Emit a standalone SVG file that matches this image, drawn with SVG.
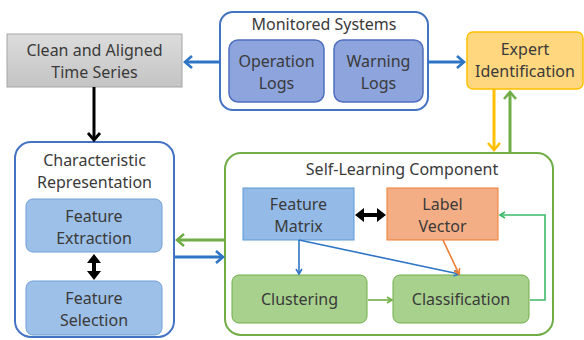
<svg xmlns="http://www.w3.org/2000/svg" width="584" height="340" viewBox="0 0 584 340">
<defs>
<style>
text{font-family:"Noto Sans","Open Sans","Liberation Sans",sans-serif;font-size:16px;fill:#3a3a3a;text-anchor:middle}
.outerB{fill:#fff;stroke:#4472c4;stroke-width:2}
.outerG{fill:#fff;stroke:#70ad47;stroke-width:2}
.logs{fill:#8ea4dc;stroke:#4f6fbf;stroke-width:1.5}
.feat{fill:#9dc0e8;stroke:#6f9fd8;stroke-width:1}
.green{fill:#a9d18e;stroke:#70ad47;stroke-width:1}
.ln{fill:none}
</style>
<marker id="aBlue" markerWidth="12" markerHeight="16" refX="9" refY="8" orient="auto" markerUnits="userSpaceOnUse"><path d="M2,2 L9,8 L2,14" fill="none" stroke="#2e75c6" stroke-width="2.6"/></marker>
<marker id="aBlueS" markerWidth="8" markerHeight="8" refX="6" refY="4" orient="auto" markerUnits="userSpaceOnUse"><path d="M1,1 L6,4 L1,7" fill="none" stroke="#2e75c6" stroke-width="1.6"/></marker>
<marker id="aGreen" markerWidth="12" markerHeight="16" refX="9" refY="8" orient="auto" markerUnits="userSpaceOnUse"><path d="M2,2 L9,8 L2,14" fill="none" stroke="#70ad47" stroke-width="2.6"/></marker>
<marker id="aGreenS" markerWidth="8" markerHeight="8" refX="6" refY="4" orient="auto" markerUnits="userSpaceOnUse"><path d="M1,1 L6,4 L1,7" fill="none" stroke="#3dba6a" stroke-width="1.6"/></marker>
<marker id="aGreenM" markerWidth="8" markerHeight="8" refX="6" refY="4" orient="auto" markerUnits="userSpaceOnUse"><path d="M1,1 L6,4 L1,7" fill="none" stroke="#70ad47" stroke-width="1.6"/></marker>
<marker id="aYel" markerWidth="12" markerHeight="16" refX="9" refY="8" orient="auto" markerUnits="userSpaceOnUse"><path d="M2,2 L9,8 L2,14" fill="none" stroke="#ffc000" stroke-width="2.6"/></marker>
<marker id="aOr" markerWidth="8" markerHeight="8" refX="6" refY="4" orient="auto" markerUnits="userSpaceOnUse"><path d="M1,1 L6,4 L1,7" fill="none" stroke="#ed7d31" stroke-width="1.6"/></marker>
<marker id="aBlk" markerWidth="12" markerHeight="16" refX="9" refY="8" orient="auto" markerUnits="userSpaceOnUse"><path d="M2,2 L9,8 L2,14" fill="none" stroke="#000" stroke-width="2.8"/></marker>
<linearGradient id="gGray" x1="0" y1="0" x2="0" y2="1"><stop offset="0" stop-color="#dcdcdc"/><stop offset="1" stop-color="#c4c4c4"/></linearGradient>
</defs>

<g id="clean">
<rect x="7" y="34" width="175" height="53" fill="url(#gGray)" stroke="#a6a6a6" stroke-width="1"/>
<text x="94.5" y="56">Clean and Aligned</text>
<text x="94.5" y="78">Time Series</text>
</g>

<g id="monitored">
<rect class="outerB" x="220" y="12" width="208" height="98" rx="13"/>
<text x="324" y="30">Monitored Systems</text>
</g>
<g id="oplogs">
<rect class="logs" x="229" y="40" width="95" height="62" rx="9"/>
<text x="276.5" y="67">Operation</text>
<text x="276.5" y="89">Logs</text>
</g>
<g id="warnlogs">
<rect class="logs" x="334" y="40" width="89" height="62" rx="9"/>
<text x="378.5" y="67">Warning</text>
<text x="378.5" y="89">Logs</text>
</g>

<g id="expert">
<rect x="467" y="32" width="116" height="57" rx="6" fill="#ffd77e" stroke="#ffc000" stroke-width="1.5"/>
<text x="525" y="55">Expert</text>
<text x="525" y="77">Identification</text>
</g>

<g id="charrep">
<rect class="outerB" x="15" y="142" width="159" height="195" rx="16"/>
<text x="94.5" y="166">Characteristic</text>
<text x="94.5" y="188">Representation</text>
</g>
<g id="featextract">
<rect class="feat" x="26" y="199" width="136" height="53" rx="7"/>
<text x="94" y="222">Feature</text>
<text x="94" y="244">Extraction</text>
</g>
<g id="featselect">
<rect class="feat" x="26" y="281" width="136" height="54" rx="7"/>
<text x="94" y="304">Feature</text>
<text x="94" y="326">Selection</text>
</g>

<g id="selflearning">
<rect class="outerG" x="225" y="153" width="328" height="182" rx="16"/>
<text x="402" y="175">Self-Learning Component</text>
</g>
<g id="featmatrix">
<rect x="243" y="188" width="111" height="52" fill="#94bbe8" stroke="#5b9bd5" stroke-width="1"/>
<text x="298.5" y="210">Feature</text>
<text x="298.5" y="232">Matrix</text>
</g>
<g id="labelvector">
<rect x="387" y="188" width="111" height="52" fill="#f4ae85" stroke="#ed7d31" stroke-width="1"/>
<text x="442.5" y="210">Label</text>
<text x="442.5" y="232">Vector</text>
</g>
<g id="clustering">
<rect class="green" x="232" y="275" width="135" height="48" rx="7"/>
<text x="299.5" y="305">Clustering</text>
</g>
<g id="classification">
<rect class="green" x="393" y="275" width="136" height="48" rx="7"/>
<text x="461" y="305">Classification</text>
</g>

<g id="connectors">
<line class="ln" x1="220" y1="62" x2="185" y2="62" stroke="#2e75c6" stroke-width="3" marker-end="url(#aBlue)"/>
<line class="ln" x1="428" y1="62" x2="464" y2="62" stroke="#2e75c6" stroke-width="3" marker-end="url(#aBlue)"/>
<line class="ln" x1="94" y1="87" x2="94" y2="140" stroke="#000" stroke-width="3" marker-end="url(#aBlk)"/>
<line class="ln" x1="494" y1="89" x2="494" y2="150" stroke="#ffc000" stroke-width="3" marker-end="url(#aYel)"/>
<line class="ln" x1="510" y1="153" x2="510" y2="92" stroke="#70ad47" stroke-width="3" marker-end="url(#aGreen)"/>
<line class="ln" x1="225" y1="240" x2="177" y2="240" stroke="#70ad47" stroke-width="3" marker-end="url(#aGreen)"/>
<line class="ln" x1="175" y1="257" x2="223" y2="257" stroke="#2e75c6" stroke-width="3" marker-end="url(#aBlue)"/>
<polygon points="94,254 87,263 92,263 92,271 87,271 94,280 101,271 96,271 96,263 101,263" fill="#000"/>
<polygon points="355,215 364,208 364,213 377,213 377,208 386,215 377,222 377,217 364,217 364,222" fill="#000"/>
<line class="ln" x1="299" y1="240" x2="299" y2="274" stroke="#2e75c6" stroke-width="1.6" marker-end="url(#aBlueS)"/>
<line class="ln" x1="299" y1="240" x2="459" y2="274" stroke="#2e75c6" stroke-width="1.6" marker-end="url(#aBlueS)"/>
<line class="ln" x1="443" y1="240" x2="459" y2="274" stroke="#ed7d31" stroke-width="1.6" marker-end="url(#aOr)"/>
<line class="ln" x1="368" y1="300" x2="392" y2="300" stroke="#70ad47" stroke-width="1.6" marker-end="url(#aGreenM)"/>
<polyline class="ln" points="530,300 545,300 545,215 500,215" stroke="#3dba6a" stroke-width="1.6" marker-end="url(#aGreenS)"/>
</g>
</svg>
